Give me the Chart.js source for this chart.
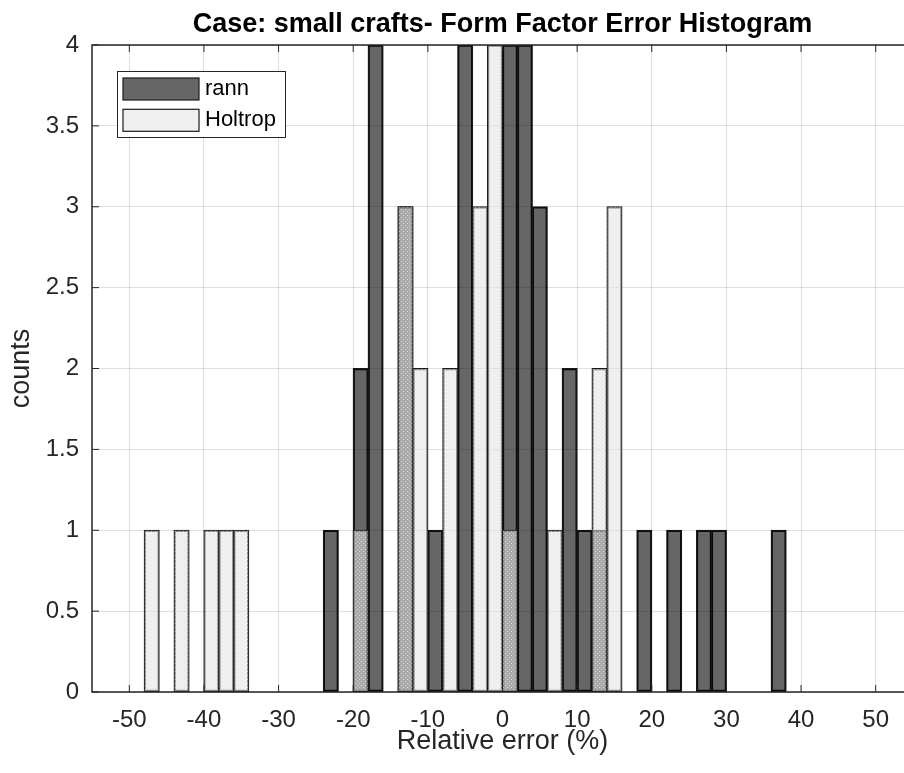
<!DOCTYPE html>
<html>
<head>
<meta charset="utf-8">
<script src="https://cdn.jsdelivr.net/npm/chart.js@4.4.0/dist/chart.umd.min.js"></script>
<style>
  html, body { margin: 0; padding: 0; background: #fff; overflow: hidden; }
  #wrap { position: relative; width: 926px; height: 773px; }
</style>
</head>
<body>
<div id="wrap"><canvas id="hist" width="926" height="773"></canvas></div>
<script>
// bin centres (bins are 2 % wide)
const binCenters = [-47, -45, -43, -41, -39, -37, -35, -33, -31, -29, -27, -25, -23, -21, -19, -17, -15, -13, -11, -9, -7, -5, -3, -1,
  1, 3, 5, 7, 9, 11, 13, 15, 17, 19, 21, 23, 25, 27, 29, 31, 33, 35, 37];
const rannCounts = [0, 0, 0, 0, 0, 0, 0, 0, 0, 0, 0, 0, 1, 0, 2, 4, 0, 3, 0, 1, 0, 4, 0, 0,
  4, 4, 3, 0, 2, 1, 1, 0, 0, 1, 0, 1, 0, 1, 1, 0, 0, 0, 1];
const holtropCounts = [1, 0, 1, 0, 1, 1, 1, 0, 0, 0, 0, 0, 0, 0, 1, 0, 0, 3, 2, 0, 2, 0, 3, 4,
  1, 0, 0, 1, 0, 0, 2, 3, 0, 0, 0, 0, 0, 0, 0, 0, 0, 0, 0];
const xTicks = [-50, -40, -30, -20, -10, 0, 10, 20, 30, 40, 50];
const yTicks = [0, 0.5, 1, 1.5, 2, 2.5, 3, 3.5, 4];

const FONT = "'Liberation Sans', Arial, Helvetica, sans-serif";
const TXT = "#262626";

function toPoints(counts) {
  return binCenters.map((x, i) => ({ x: x, y: counts[i] === 0 ? null : counts[i] }));
}

// light dotted fill, semi transparent like the matlab one
function dotPattern() {
  const c = document.createElement("canvas");
  c.width = 4; c.height = 4;
  const g = c.getContext("2d");
  g.fillStyle = "rgba(224,224,224,0.56)";
  g.fillRect(0, 0, 4, 4);
  g.fillStyle = "rgba(255,255,255,0.45)";
  g.fillRect(1, 1, 1, 1);
  g.fillRect(3, 3, 1, 1);
  return g.createPattern(c, "repeat");
}

const axesBox = {
  id: "axesBox",
  afterDraw(chart) {
    const { ctx, chartArea: a, scales } = chart;
    ctx.save();
    ctx.strokeStyle = TXT;
    ctx.lineWidth = 1.5;
    ctx.strokeRect(a.left, a.top, a.right - a.left, a.bottom - a.top);
    ctx.beginPath();
    xTicks.forEach(v => {
      const px = scales.x.getPixelForValue(v);
      ctx.moveTo(px, a.bottom); ctx.lineTo(px, a.bottom - 7);
      ctx.moveTo(px, a.top); ctx.lineTo(px, a.top + 7);
    });
    yTicks.forEach(v => {
      const py = scales.y.getPixelForValue(v);
      ctx.moveTo(a.left, py); ctx.lineTo(a.left + 7, py);
      ctx.moveTo(a.right, py); ctx.lineTo(a.right - 7, py);
    });
    ctx.lineWidth = 1;
    ctx.stroke();

    // legend box, top left inside the axes
    const lx = a.left + 25, ly = a.top + 26, lw = 168, lh = 66;
    ctx.fillStyle = "#fff";
    ctx.fillRect(lx, ly, lw, lh);
    ctx.strokeStyle = TXT;
    ctx.lineWidth = 1;
    ctx.strokeRect(lx + 0.5, ly + 0.5, lw, lh);
    chart.data.datasets.forEach((ds, i) => {
      const sy = ly + 7 + i * 31.3;
      ctx.fillStyle = ds.backgroundColor;
      ctx.fillRect(lx + 6, sy, 76, 22);
      ctx.strokeStyle = "#1a1a1a";
      ctx.lineWidth = 1.2;
      ctx.strokeRect(lx + 6, sy, 76, 22);
      ctx.fillStyle = "#000";
      ctx.font = "22px " + FONT;
      ctx.textBaseline = "middle";
      ctx.textAlign = "left";
      ctx.fillText(ds.label, lx + 88, sy + 11);
    });
    ctx.restore();
  }
};

const barStyle = {
  grouped: false,
  barPercentage: 1,
  categoryPercentage: 1,
  borderWidth: 1.1,
  borderSkipped: false,
  inflateAmount: 0.55,
  borderColor: "#1a1a1a"
};

new Chart(document.getElementById("hist"), {
  type: "bar",
  data: {
    datasets: [
      Object.assign({ label: "rann", data: toPoints(rannCounts), backgroundColor: "rgba(0,0,0,0.6)", order: 1 }, barStyle),
      Object.assign({ label: "Holtrop", data: toPoints(holtropCounts), backgroundColor: dotPattern(), order: 0 }, barStyle)
    ]
  },
  plugins: [axesBox],
  options: {
    responsive: false,
    animation: false,
    layout: { padding: { left: 0, right: 13, top: 0, bottom: 0 } },
    plugins: {
      legend: { display: false },
      tooltip: { enabled: false },
      title: {
        display: true,
        text: "Case: small crafts- Form Factor Error Histogram",
        color: "#000",
        fullSize: false,
        font: { family: FONT, size: 27, weight: "bold" },
        padding: { top: 8, bottom: 4.6 }
      }
    },
    scales: {
      x: {
        type: "linear",
        min: -55,
        max: 55,
        offset: false,
        z: 1,
        afterBuildTicks: s => { s.ticks = xTicks.map(v => ({ value: v })); },
        afterFit: s => { s.height = 81; },
        grid: { offset: false, color: "rgba(38,38,38,0.15)", drawTicks: false },
        border: { display: false },
        ticks: { color: TXT, font: { family: FONT, size: 24 }, padding: 14, maxRotation: 0, autoSkip: false, callback: v => String(v) },
        title: { display: true, text: "Relative error (%)", color: TXT, font: { family: FONT, size: 27 }, padding: { top: 0, bottom: 15 } }
      },
      y: {
        min: 0,
        max: 4,
        z: 1,
        afterBuildTicks: s => { s.ticks = yTicks.map(v => ({ value: v })); },
        afterFit: s => { s.width = 92; },
        grid: { color: "rgba(38,38,38,0.15)", drawTicks: false },
        border: { display: false },
        ticks: { color: TXT, font: { family: FONT, size: 24 }, padding: 13, callback: v => String(v) },
        title: { display: true, text: "counts", color: TXT, font: { family: FONT, size: 27 }, padding: { top: 5 } }
      }
    }
  }
});
</script>
</body>
</html>
